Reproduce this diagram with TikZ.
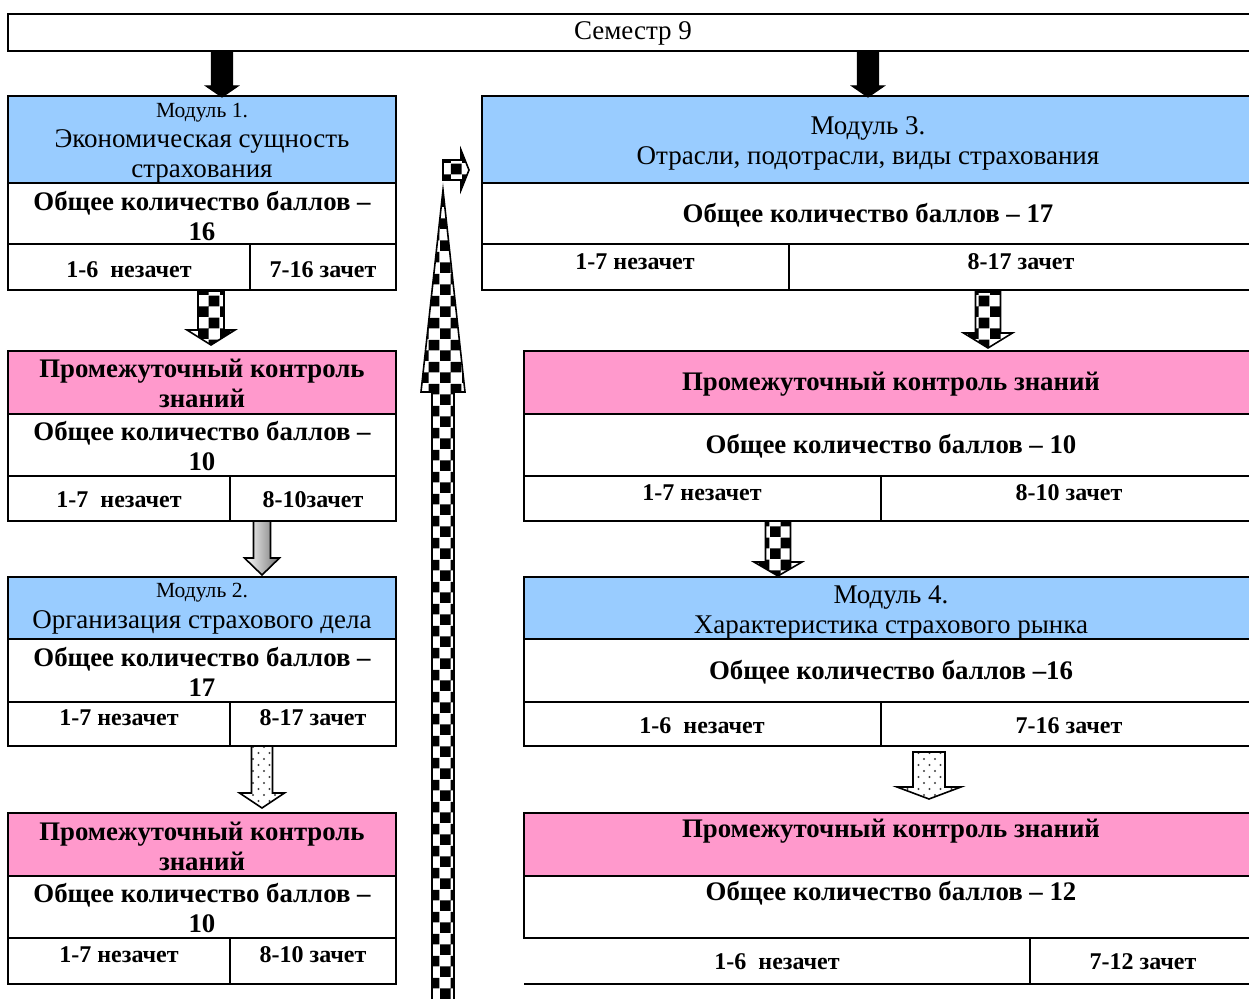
\documentclass[tikz,border=0pt]{standalone}
\usepackage{fontspec}
\setmainfont{Liberation Serif}
\usetikzlibrary{patterns}
\pgfdeclarepatternformonly{bigchecks}{\pgfpointorigin}{\pgfqpoint{11pt}{11pt}}{\pgfqpoint{11pt}{11pt}}{%
  \pgfpathrectangle{\pgfpointorigin}{\pgfqpoint{5.5pt}{5.5pt}}%
  \pgfpathrectangle{\pgfqpoint{5.5pt}{5.5pt}}{\pgfqpoint{5.5pt}{5.5pt}}%
  \pgfusepath{fill}}
\pgfdeclarepatternformonly{sparsedots}{\pgfqpoint{-1pt}{-1pt}}{\pgfqpoint{6.5pt}{7pt}}{\pgfqpoint{5.5pt}{6pt}}{%
  \pgfpathcircle{\pgfqpoint{0pt}{0pt}}{0.6pt}%
  \pgfpathcircle{\pgfqpoint{2.75pt}{3pt}}{0.6pt}%
  \pgfusepath{fill}}
\definecolor{modblue}{HTML}{99CCFF}
\definecolor{ctlpink}{HTML}{FF99CC}
\newcommand\blockdown[7]{%
  \filldraw[#7] ({#1-#5},#2) -- ({#1+#5},#2) -- ({#1+#5},#3) -- ({#1+#6},#3) -- (#1,#4)
    -- ({#1-#6},#3) -- ({#1-#5},#3) -- cycle;}
\begin{document}
\begin{tikzpicture}[x=0.5pt,y=-0.5pt,
  cellbox/.style={draw=black,line width=1pt},
  reg/.style={font=\fontsize{13.5}{15}\selectfont,align=center,inner sep=0pt,yshift=-1.5pt},
  small/.style={font=\fontsize{10.8}{12}\selectfont,align=center,inner sep=0pt,yshift=-1.5pt},
  bld/.style={font=\fontsize{13.4}{15}\selectfont\bfseries,align=center,inner sep=0pt},
  bldsm/.style={font=\fontsize{12}{14}\selectfont\bfseries,align=center,inner sep=0pt},
  blackarrow/.style={fill=black,draw=black,line width=0.6pt},
  checkarrow/.style={pattern=bigchecks,draw=black,line width=0.8pt},
  dotarrow/.style={pattern=sparsedots,pattern color=black!75,draw=black,line width=0.8pt},
  grayarrow/.style={left color=white,right color=black!55,draw=black,line width=0.8pt}]
\useasboundingbox (0,0) rectangle (1249,999);
\fill[white] (0,0) rectangle (1249,999);

% ---- Semester header
\draw[cellbox] (8,14) rectangle (1253,51);
\node[reg] (sem) at (633,30) {Семестр 9};

% ---- Left column: Module 1
\filldraw[cellbox,fill=modblue] (8,96) rectangle (396,183);
\draw[cellbox] (8,183) rectangle (396,244);
\draw[cellbox] (8,244) rectangle (250,290);
\draw[cellbox] (250,244) rectangle (396,290);
\node[small] (m1a) at (202,110) {Модуль 1.};
\node[reg] (m1b) at (202,153) {Экономическая сущность\\страхования};
\node[bld] (m1t) at (202,216) {Общее количество баллов –\\16};
\node[bldsm] (m1n) at (129,270) {1-6~ незачет};
\node[bldsm] (m1z) at (323,270) {7-16 зачет};

% ---- Left column: control 1
\filldraw[cellbox,fill=ctlpink] (8,351) rectangle (396,414);
\draw[cellbox] (8,414) rectangle (396,476);
\draw[cellbox] (8,476) rectangle (230,521);
\draw[cellbox] (230,476) rectangle (396,521);
\node[bld] (k1h) at (202,383) {Промежуточный контроль\\знаний};
\node[bld] (k1t) at (202,446) {Общее количество баллов –\\10};
\node[bldsm] (k1n) at (119,500) {1-7~ незачет};
\node[bldsm] (k1z) at (313,500) {8-10зачет};

% ---- Left column: Module 2
\filldraw[cellbox,fill=modblue] (8,577) rectangle (396,639);
\draw[cellbox] (8,639) rectangle (396,702);
\draw[cellbox] (8,702) rectangle (230,746);
\draw[cellbox] (230,702) rectangle (396,746);
\node[small] (m2a) at (202,590) {Модуль 2.};
\node[reg] (m2b) at (202,619) {Организация страхового дела};
\node[bld] (m2t) at (202,672) {Общее количество баллов –\\17};
\node[bldsm] (m2n) at (119,718) {1-7 незачет};
\node[bldsm] (m2z) at (313,718) {8-17 зачет};

% ---- Left column: control 2
\filldraw[cellbox,fill=ctlpink] (8,813) rectangle (396,876);
\draw[cellbox] (8,876) rectangle (396,938);
\draw[cellbox] (8,938) rectangle (230,984);
\draw[cellbox] (230,938) rectangle (396,984);
\node[bld] (k2h) at (202,846) {Промежуточный контроль\\знаний};
\node[bld] (k2t) at (202,908) {Общее количество баллов –\\10};
\node[bldsm] (k2n) at (119,955) {1-7 незачет};
\node[bldsm] (k2z) at (313,955) {8-10 зачет};

% ---- Right column: Module 3
\filldraw[cellbox,fill=modblue] (482,96) rectangle (1253,183);
\draw[cellbox] (482,183) rectangle (1253,244);
\draw[cellbox] (482,244) rectangle (789,290);
\draw[cellbox] (789,244) rectangle (1253,290);
\node[reg] (m3a) at (868,140) {Модуль 3.\\Отрасли, подотрасли, виды страхования};
\node[bld] (m3t) at (868,215) {Общее количество баллов – 17};
\node[bldsm] (m3n) at (635,262) {1-7 незачет};
\node[bldsm] (m3z) at (1021,262) {8-17 зачет};

% ---- Right column: control 3
\filldraw[cellbox,fill=ctlpink] (524,351) rectangle (1253,414);
\draw[cellbox] (524,414) rectangle (1253,476);
\draw[cellbox] (524,476) rectangle (881,521);
\draw[cellbox] (881,476) rectangle (1253,521);
\node[bld] (k3h) at (891,384) {Промежуточный контроль знаний};
\node[bld] (k3t) at (891,446) {Общее количество баллов – 10};
\node[bldsm] (k3n) at (702,493) {1-7 незачет};
\node[bldsm] (k3z) at (1069,493) {8-10 зачет};

% ---- Right column: Module 4
\filldraw[cellbox,fill=modblue] (524,577) rectangle (1253,639);
\draw[cellbox] (524,639) rectangle (1253,702);
\draw[cellbox] (524,702) rectangle (881,746);
\draw[cellbox] (881,702) rectangle (1253,746);
\node[reg] (m4a) at (891,609) {Модуль 4.\\Характеристика страхового рынка};
\node[bld] (m4t) at (891,672) {Общее количество баллов –16};
\node[bldsm] (m4n) at (702,726) {1-6~ незачет};
\node[bldsm] (m4z) at (1069,726) {7-16 зачет};

% ---- Right column: control 4
\filldraw[cellbox,fill=ctlpink] (524,813) rectangle (1253,876);
\draw[cellbox] (524,876) rectangle (1253,938);
\draw[cellbox] (524,984) -- (1253,984);
\draw[cellbox] (1030,938) -- (1030,984);
\node[bld] (k4h) at (891,831) {Промежуточный контроль знаний};
\node[bld] (k4t) at (891,893) {Общее количество баллов – 12};
\node[bldsm] (k4n) at (777,962) {1-6~ незачет};
\node[bldsm] (k4z) at (1143,962) {7-12 зачет};

% ---- Block arrows
\blockdown{222}{52}{86}{97}{10.5}{16}{blackarrow}
\blockdown{868}{52}{86}{97}{10.5}{16}{blackarrow}
\blockdown{211}{291}{330}{345}{13}{24}{checkarrow}
\blockdown{262}{521}{558}{575}{8.5}{17.5}{grayarrow}
\blockdown{262}{746}{793}{808}{10.5}{22.5}{dotarrow}
\blockdown{988}{292}{333}{348}{12.5}{24.5}{checkarrow}
\blockdown{778}{521}{562}{576}{12.5}{24}{checkarrow}
\blockdown{929}{752}{787}{799}{16}{32}{dotarrow}

% big upward checkered arrow
\filldraw[checkarrow] (432,1010) -- (432,392) -- (421,392) -- (443,190) -- (465,392)
  -- (454,392) -- (454,1010);
% small right-pointing checkered arrow
\filldraw[checkarrow] (443,160) -- (461,160) -- (461,150) -- (469,170) -- (461,190)
  -- (461,180) -- (443,180) -- cycle;
\end{tikzpicture}
\end{document}
